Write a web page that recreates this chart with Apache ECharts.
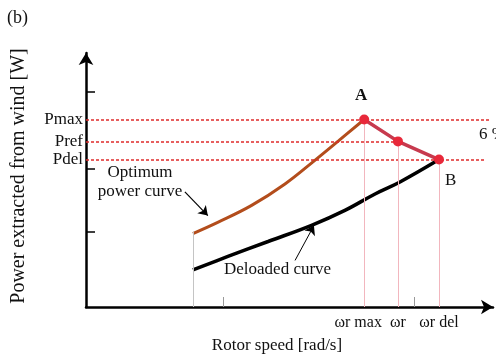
<!DOCTYPE html>
<html>
<head>
<meta charset="utf-8">
<script src="https://cdn.jsdelivr.net/npm/echarts@6/dist/echarts.min.js"></script>
<style>
html,body{margin:0;padding:0;background:#fff;}
#c{width:496px;height:359px;}
</style>
</head>
<body>
<div id="c"></div>
<script>
// ---- data (arbitrary units) ----
const optSpeed = [26.6, 32.9, 41.2, 49.5, 57.0, 62.8, 69.2];
const optPower = [29.5, 34.1, 40.8, 49.4, 59.0, 66.7, 75.3];
const delSpeed = [26.6, 35.3, 45.3, 56.1, 64.4, 71.9, 78.1, 87.8];
const delPower = [14.9, 20.3, 26.3, 32.8, 38.8, 45.4, 50.2, 59.2];
const ctrlSpeed = [69.2, 77.6, 87.8];
const ctrlPower = [75.3, 66.5, 59.2];
const ctrlNames = ['A', '', 'B'];
const powerLevels = [75.3, 66.5, 59.2];
const powerNames = ['Pmax', 'Pref', 'Pdel'];
const powerLineEnds = [100.5, 77.6, 99.3];
const speedLabelValues = [69.2, 77.6, 87.8];
const speedLabelNames = ['ωr max', 'ωr', 'ωr del'];
const yTickValues = [30.3, 55.4, 86.5];
const xTickValues = [34.1, 81.6];
const startSpeed = 26.6;
const startPowerTop = 30.3;

const zip = (a, b) => a.map((v, i) => [v, b[i]]);
const FONT = 'Liberation Serif';

const chart = echarts.init(document.getElementById('c'), null, {renderer: 'canvas'});

const dashed = powerLevels.map((p, i) => [
  {coord: [0, p]}, {coord: [powerLineEnds[i], p]}
]);
const verticals = ctrlSpeed.map((s, i) => [
  {coord: [s, 0]}, {coord: [s, ctrlPower[i]]}
]);

chart.setOption({
  animation: false,
  grid: {left: 86, right: 3, top: 53, bottom: 50, containLabel: false},
  xAxis: {
    type: 'value', min: 0, max: 101.24,
    name: 'Rotor speed [rad/s]', nameLocation: 'middle', nameGap: 30,
    nameTextStyle: {fontFamily: FONT, fontSize: 17, color: '#111', padding: [0, 25, 0, 0]},
    axisLine: {lineStyle: {color: '#000', width: 2.5}, symbol: ['none', 'arrow'], symbolSize: [11, 12]},
    axisTick: {show: true, inside: true, length: 10, customValues: xTickValues, lineStyle: {color: '#999', width: 1}},
    axisLabel: {
      customValues: speedLabelValues, margin: 8,
      fontFamily: FONT, fontSize: 16, color: '#111',
      formatter: v => {
        const i = speedLabelValues.indexOf(v);
        if (i < 0) return '';
        return i === 0 ? '{l|' + speedLabelNames[i] + '}' : speedLabelNames[i];
      },
      rich: {l: {fontFamily: FONT, fontSize: 16, color: '#111', padding: [0, 12, 0, 0]}}
    },
    splitLine: {show: false}
  },
  yAxis: {
    type: 'value', min: 0, max: 102,
    name: 'Power extracted from wind [W]', nameLocation: 'middle', nameGap: 57, nameRotate: 90,
    nameTextStyle: {fontFamily: FONT, fontSize: 20, color: '#111', padding: [0, 0, 0, 8]},
    axisLine: {lineStyle: {color: '#000', width: 2.5}, symbol: ['none', 'arrow'], symbolSize: [11, 12]},
    axisTick: {show: true, inside: true, length: 9, customValues: yTickValues, lineStyle: {color: '#000', width: 1.5}},
    axisLabel: {
      customValues: powerLevels, margin: 3,
      fontFamily: FONT, fontSize: 17, color: '#111',
      formatter: v => { const i = powerLevels.indexOf(v); return i >= 0 ? powerNames[i] : ''; }
    },
    splitLine: {show: false}
  },
  series: [
    {
      type: 'line', name: 'guides', data: [], z: 1, silent: true,
      markLine: {
        silent: true, symbol: ['none', 'none'], animation: false,
        label: {show: false},
        data: [
          ...dashed.map(d => [Object.assign({lineStyle: {color: '#e02a2a', width: 1.6, type: [3, 2]}}, d[0]), d[1]]),
          ...verticals.map(d => [Object.assign({lineStyle: {color: '#f2b6be', width: 1, type: 'solid'}}, d[0]), d[1]]),
          [{coord: [startSpeed, 0], lineStyle: {color: '#c4c4c4', width: 1, type: 'solid'}}, {coord: [startSpeed, startPowerTop]}]
        ]
      }
    },
    {
      type: 'line', name: 'Optimum power curve', data: zip(optSpeed, optPower),
      showSymbol: false, smooth: 0.4, z: 3,
      lineStyle: {color: '#b34d1c', width: 3}
    },
    {
      type: 'line', name: 'Deloaded curve', data: zip(delSpeed, delPower),
      showSymbol: false, smooth: 0.4, z: 3,
      lineStyle: {color: '#000', width: 3.5},
      markLine: {
        silent: true, symbol: ['none', 'arrow'], symbolSize: 9, animation: false,
        label: {show: false},
        data: [
          [{coord: [24.6, 46.2], lineStyle: {color: '#000', width: 1.2, type: 'solid', curveness: -0.1}}, {coord: [30.3, 36.7]}],
          [{coord: [52.0, 18.7], lineStyle: {color: '#000', width: 1, type: 'solid', curveness: -0.4}}, {coord: [56.7, 32.7]}]
        ]
      }
    },
    {
      type: 'line', name: 'control',
      data: [
        {value: [ctrlSpeed[0], ctrlPower[0]], label: {position: 'top', distance: 10, offset: [-3, 0], fontWeight: 'bold'}},
        {value: [ctrlSpeed[1], ctrlPower[1]]},
        {value: [ctrlSpeed[2], ctrlPower[2]], label: {position: 'right', distance: 5, offset: [-4, 21]}}
      ],
      symbol: 'circle', symbolSize: 10, showSymbol: true, z: 5,
      lineStyle: {color: '#c73a4e', width: 3.5},
      itemStyle: {color: '#e8283a'},
      label: {
        show: true, fontFamily: FONT, fontSize: 17, color: '#111',
        formatter: p => ctrlNames[p.dataIndex]
      }
    }
  ],
  graphic: [
    {type: 'text', left: 7, top: 9, style: {text: '(b)', font: '18px "Liberation Serif"', fill: '#111'}},
    {type: 'text', left: 479, top: 126, style: {text: '6 %', font: '17px "Liberation Serif"', fill: '#111'}},
    {type: 'text', x: 140, y: 163, style: {text: 'Optimum\npower curve', font: '17px "Liberation Serif"', fill: '#111', align: 'center', lineHeight: 19}},
    {type: 'text', x: 224, y: 261, style: {text: 'Deloaded curve', font: '17px "Liberation Serif"', fill: '#111'}}
  ]
});
</script>
</body>
</html>
